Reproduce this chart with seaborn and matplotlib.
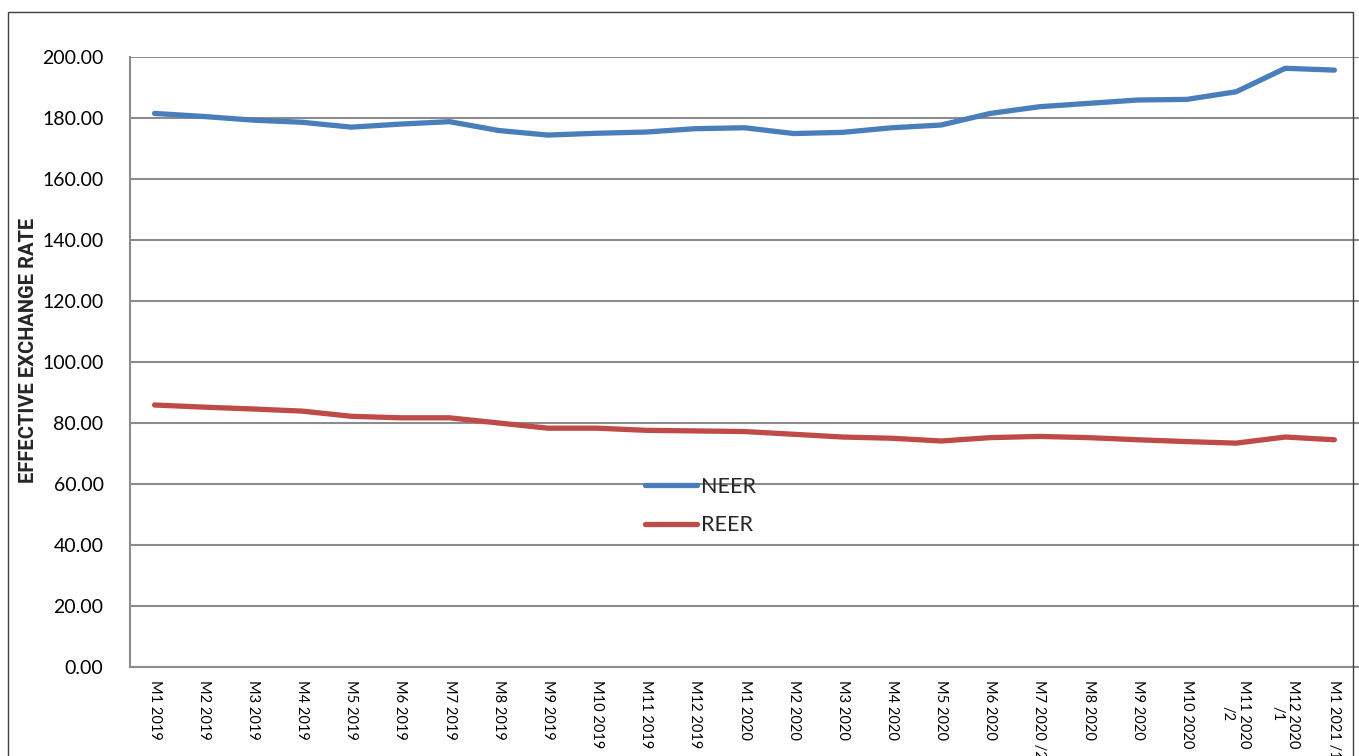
import matplotlib
matplotlib.use("Agg")
import matplotlib.pyplot as plt
import seaborn as sns
import pandas as pd
from matplotlib.patches import Rectangle

months = ["M1 2019", "M2 2019", "M3 2019", "M4 2019", "M5 2019", "M6 2019",
          "M7 2019", "M8 2019", "M9 2019", "M10 2019", "M11 2019", "M12 2019",
          "M1 2020", "M2 2020", "M3 2020", "M4 2020", "M5 2020", "M6 2020",
          "M7 2020 /2", "M8 2020", "M9 2020", "M10 2020", "M11 2020\n/2",
          "M12 2020\n/1", "M1 2021 /1"]
neer = [181.5, 180.5, 179.3, 178.6, 177.0, 178.0, 178.8, 175.9, 174.4, 175.0,
        175.4, 176.5, 176.8, 174.9, 175.3, 176.8, 177.7, 181.5, 183.7, 184.8,
        185.9, 186.1, 188.6, 196.3, 195.7]
reer = [85.9, 85.2, 84.6, 83.9, 82.2, 81.7, 81.7, 80.0, 78.3, 78.3,
        77.6, 77.4, 77.2, 76.3, 75.4, 75.0, 74.1, 75.2, 75.6, 75.2,
        74.5, 73.9, 73.4, 75.4, 74.5]
series_names = ["NEER", "REER"]
yticks = [0, 20, 40, 60, 80, 100, 120, 140, 160, 180, 200]
ylabel = "EFFECTIVE EXCHANGE RATE"

df = pd.DataFrame({
    "month": months * 2,
    "value": neer + reer,
    "series": [series_names[0]] * len(months) + [series_names[1]] * len(months),
})

sns.set_theme(style="white")
plt.rcParams["font.family"] = ["Lato", "DejaVu Sans"]

W, H = 1359, 756
fig = plt.figure(figsize=(W / 100, H / 100), dpi=100)
ax = fig.add_axes([130 / W, 1 - 667 / H, (W - 130) / W, (667 - 57) / H])

sns.lineplot(data=df, x="month", y="value", hue="series", sort=False,
             palette={"NEER": "#4a7ebb", "REER": "#be4b48"},
             linewidth=3.8, ax=ax, legend=True)
for ln in ax.get_lines():
    ln.set_solid_capstyle("round")

ax.set_xlim(-0.5, len(months) - 0.5)
ax.set_ylim(0, 200)
ax.set_yticks(yticks)
ax.set_yticklabels([f"{v:.2f}" for v in yticks], fontsize=14, color="black")
ax.set_xticks(range(len(months)))
ax.set_xticklabels(months, rotation=-90, fontsize=10.5, color="black",
                   ha="center", va="top", multialignment="center")
ax.tick_params(axis="y", length=0, pad=19)
ax.tick_params(axis="x", length=0, pad=9)
ax.set_xlabel("")
ax.set_ylabel("")

ax.grid(axis="y", color="#8c8c8c", linewidth=1.5)
ax.set_axisbelow(True)
for s in ["top", "right"]:
    ax.spines[s].set_visible(False)
for s in ["left", "bottom"]:
    ax.spines[s].set_color("#8c8c8c")
    ax.spines[s].set_linewidth(1.5)

leg = ax.legend(loc="upper left", bbox_to_anchor=(645 / W, 1 - 477 / H),
                bbox_transform=fig.transFigure, frameon=False, fontsize=15.5,
                handlelength=2.4, handletextpad=0.2, labelspacing=0.85,
                borderpad=0, borderaxespad=0)
for h in leg.get_lines():
    h.set_linewidth(3.8)
    h.set_solid_capstyle("round")

fig.text(29 / W, 1 - 350 / H, ylabel, rotation=90, fontsize=14.5,
         fontweight="bold",
         family=["Liberation Sans Narrow", "Roboto", "DejaVu Sans"],
         ha="center", va="center")

fig.patches.append(Rectangle((8 / W, -0.1), (1353 - 8) / W, 1 - 12 / H + 0.1,
                             transform=fig.transFigure, fill=False,
                             edgecolor="#404040", linewidth=1.0, zorder=10))

fig.savefig("out.png", dpi=100)
